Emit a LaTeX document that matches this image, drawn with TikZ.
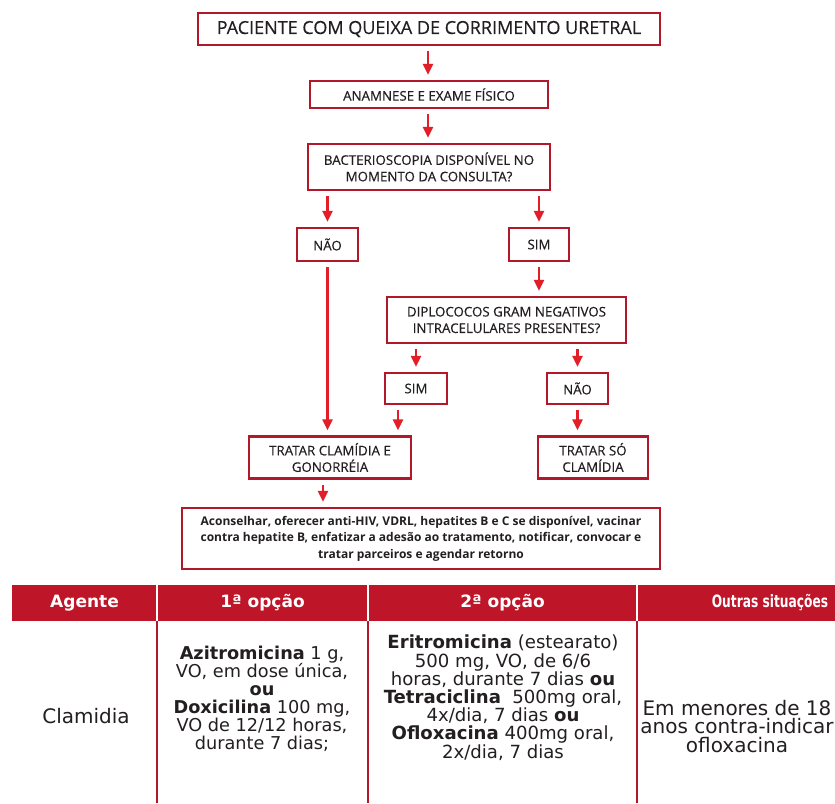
\documentclass[tikz,border=0pt]{standalone}
\usepackage{fontspec}
\usepackage{graphicx}
\setmainfont{Open Sans}
\newfontfamily\flowfont[FakeBold=0.4]{Open Sans}
\newfontfamily\tabfont{DejaVu Sans}
\usetikzlibrary{arrows.meta,calc}
\definecolor{boxred}{RGB}{178,24,42}
\definecolor{arrred}{RGB}{226,30,40}
\definecolor{headred}{RGB}{190,22,40}
\definecolor{ink}{RGB}{35,31,32}
\begin{document}
\begin{tikzpicture}[x=1pt,y=-1pt,
  fbox/.style={draw=boxred, line width=2.2pt, fill=white, inner sep=0pt, align=center, text=ink,
    font=\flowfont\fontsize{13.3}{16.5}\selectfont},
  arr/.style={draw=arrred, line width=2.2pt, -{Triangle[width=10pt,length=11pt]}, shorten <=5pt, shorten >=5pt},
  hdr/.style={text=white, font=\tabfont\bfseries\fontsize{17}{18}\selectfont, inner sep=0pt},
  cell/.style={text=ink, align=center, inner sep=0pt, font=\tabfont\fontsize{19}{18.7}\selectfont}]
\useasboundingbox (0,0) rectangle (835,803);
\fill[white] (0,0) rectangle (835,803);
% flowchart
\node[fbox, minimum width=462pt, minimum height=32pt, font=\flowfont\fontsize{18}{20}\selectfont] (b1) at (429,29) {PACIENTE COM QUEIXA DE CORRIMENTO URETRAL};
\node[fbox, minimum width=238pt, minimum height=27pt] (b2) at (429,94.5) {ANAMNESE E EXAME FÍSICO};
\node[fbox, minimum width=242pt, minimum height=46pt] (b3) at (429,167) {BACTERIOSCOPIA DISPONÍVEL NO\\MOMENTO DA CONSULTA?};
\node[fbox, minimum width=61pt, minimum height=33pt] (nao) at (327.5,244.5) {NÃO};
\node[fbox, minimum width=60pt, minimum height=33pt] (sim) at (539,244.5) {SIM};
\node[fbox, minimum width=239pt, minimum height=46pt] (diplo) at (506.5,320) {DIPLOCOCOS GRAM NEGATIVOS\\INTRACELULARES PRESENTES?};
\node[fbox, minimum width=62pt, minimum height=31pt] (sim2) at (416,388.5) {SIM};
\node[fbox, minimum width=61pt, minimum height=31pt] (nao2) at (577.5,388.5) {NÃO};
\node[fbox, minimum width=162pt, minimum height=42pt] (t1) at (330,457.5) {TRATAR CLAMÍDIA E\\GONORRÉIA};
\node[fbox, minimum width=110pt, minimum height=42pt] (t2) at (593,457.5) {TRATAR SÓ\\CLAMÍDIA};
\node[fbox, minimum width=478pt, minimum height=61pt, font=\normalfont\bfseries\fontsize{12}{16.5}\selectfont] (b4) at (421,538.5) {Aconselhar, oferecer anti-HIV, VDRL, hepatites B e C se disponível, vacinar\\contra hepatite B, enfatizar a adesão ao tratamento, notificar, convocar e\\tratar parceiros e agendar retorno};
% connectors
\draw[arr] (b1.south -| 428,0) -- (b2.north -| 428,0);
\draw[arr] (b2.south -| 428,0) -- (b3.north -| 428,0);
\draw[arr] (b3.south -| nao.north) -- (nao.north);
\draw[arr] (b3.south -| sim.north) -- (sim.north);
\draw[arr] (nao.south) -- (t1.north -| nao.south);
\draw[arr] (sim.south) -- (diplo.north -| sim.south);
\draw[arr] (diplo.south -| sim2.north) -- (sim2.north);
\draw[arr] (diplo.south -| nao2.north) -- (nao2.north);
\coordinate (s2o) at ($(sim2.south)+(-18,0)$);
\draw[arr] (s2o) -- (t1.north -| s2o);
\draw[arr] (nao2.south) -- (t2.north -| nao2.south);
\draw[arr] (t1.south -| 323,0) -- (b4.north -| 323,0);
% table
\fill[headred] (12,585) rectangle (835,621);
\foreach \xx in {157,368,637} {
  \draw[white, line width=1.5pt] (\xx,585) -- (\xx,621);
  \draw[boxred, line width=1.3pt] (\xx,621) -- (\xx,803);
}
\node[hdr] (h1) at (84.5,603) {Agente};
\node[hdr] (h2) at (262.5,603) {1ª opção};
\node[hdr] (h3) at (502.5,603) {2ª opção};
\node[hdr] (h4) at (770,603) {\scalebox{0.72}[1]{Outras situações}};
\node[cell, anchor=base, font=\tabfont\fontsize{20}{20}\selectfont] (c1) at (86,723) {Clamidia};
\node[cell, anchor=north, font=\tabfont\fontsize{17.7}{17.8}\selectfont] (c2) at (262,645.5) {\textbf{Azitromicina} 1 g,\\VO, em dose única,\\\textbf{ou}\\\textbf{Doxicilina} 100 mg,\\VO de 12/12 horas,\\durante 7 dias;};
\node[cell, anchor=north, font=\tabfont\fontsize{18.1}{18.2}\selectfont] (c3) at (503,635) {\textbf{Eritromicina} (estearato)\\500 mg, VO, de 6/6\\horas, durante 7 dias \textbf{ou}\\\textbf{Tetraciclina}\ \ 500mg oral,\\4x/dia, 7 dias \textbf{ou}\\\textbf{Ofloxacina} 400mg oral,\\2x/dia, 7 dias};
\node[cell, anchor=north, font=\tabfont\fontsize{20}{18.5}\selectfont] (c4) at (737,700) {Em menores de 18\\anos contra-indicar\\ofloxacina};
\end{tikzpicture}
\end{document}
